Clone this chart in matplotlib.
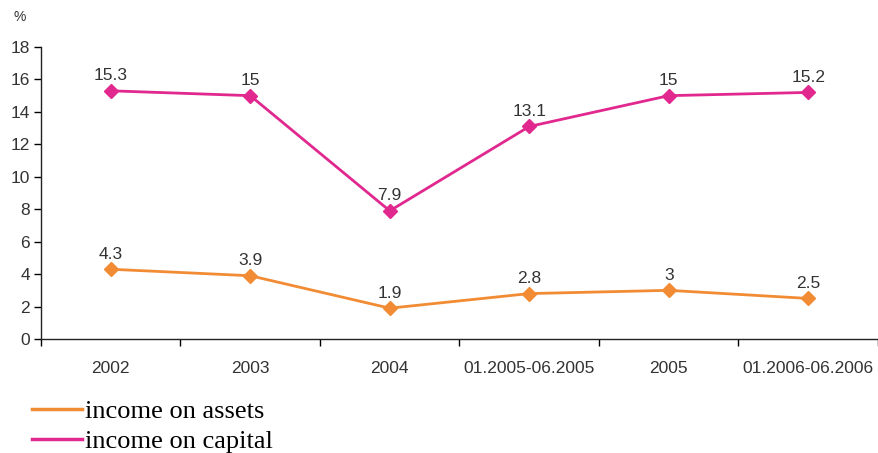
import matplotlib
matplotlib.use("Agg")
import matplotlib.pyplot as plt
from matplotlib.lines import Line2D

categories = ["2002", "2003", "2004", "01.2005-06.2005", "2005", "01.2006-06.2006"]
income_on_assets = [4.3, 3.9, 1.9, 2.8, 3.0, 2.5]
income_on_capital = [15.3, 15.0, 7.9, 13.1, 15.0, 15.2]
asset_labels = ["4.3", "3.9", "1.9", "2.8", "3", "2.5"]
capital_labels = ["15.3", "15", "7.9", "13.1", "15", "15.2"]
yticks = [0, 2, 4, 6, 8, 10, 12, 14, 16, 18]

orange = "#F28C34"
pink = "#E0288F"

plt.rcParams['font.family'] = ['Liberation Sans', 'DejaVu Sans']

fig = plt.figure(figsize=(8.79, 4.53), dpi=100)
ax = fig.add_axes([41/879, 1 - 339/453, (878-41)/879, (339-47)/453])

x = list(range(len(categories)))
ax.plot(x, income_on_assets, color=orange, lw=2, marker='D', ms=7, zorder=3)
ax.plot(x, income_on_capital, color=pink, lw=2, marker='D', ms=7, zorder=3)

for xi, v, t in zip(x, income_on_assets, asset_labels):
    ax.annotate(t, (xi, v), xytext=(0, 5.5), textcoords='offset points',
                ha='center', va='bottom', fontsize=12.5, color='#333333')
for xi, v, t in zip(x, income_on_capital, capital_labels):
    ax.annotate(t, (xi, v), xytext=(0, 5.5), textcoords='offset points',
                ha='center', va='bottom', fontsize=12.5, color='#333333')

ax.set_xlim(-0.5, len(categories) - 0.5)
ax.set_ylim(0, 18)
ax.set_yticks(yticks)
ax.set_yticklabels([str(t) for t in yticks], fontsize=12.5, color='#333333')
ax.set_xticks([i + 0.5 for i in range(-1, len(categories))])
ax.set_xticklabels([])
ax.set_xticks(x, minor=True)
ax.set_xticklabels(categories, minor=True, fontsize=12.5, color='#333333')
ax.tick_params(axis='x', which='minor', length=0, pad=16)
ax.tick_params(axis='x', which='major', length=5, width=1, direction='out')
ax.tick_params(axis='y', length=5, width=1, direction='out', pad=3)

for s in ['top', 'right']:
    ax.spines[s].set_visible(False)
for s in ['left', 'bottom']:
    ax.spines[s].set_color('#222222')
    ax.spines[s].set_linewidth(1)

fig.text(14/879, 1 - 17/453, "%", fontsize=10, color='#333333', va='center')

handles = [Line2D([], [], color=orange, lw=2.5), Line2D([], [], color=pink, lw=2.5)]
leg = fig.legend(handles, ["income on assets", "income on capital"],
                 loc='upper left', bbox_to_anchor=(32/879, 1 - 400/453),
                 frameon=False, prop={'family': 'Liberation Serif', 'size': 19},
                 handlelength=1.9, handletextpad=0.1, labelspacing=0.22,
                 borderaxespad=0, borderpad=0)

fig.savefig("out.png", dpi=100)
